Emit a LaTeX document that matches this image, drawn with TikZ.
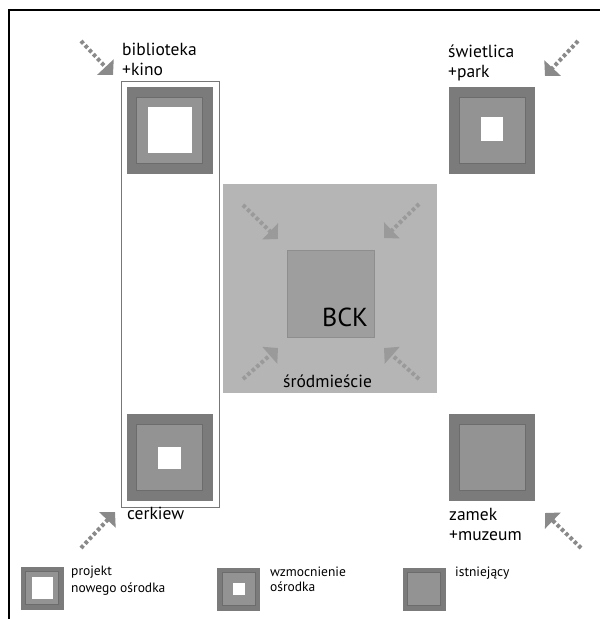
\documentclass[tikz,border=0pt]{standalone}
\usepackage{fontspec}
\setmainfont{PT Sans}
\usetikzlibrary{arrows.meta}
\definecolor{ringdark}{HTML}{7B7B7B}
\definecolor{ringmid}{HTML}{939393}
\definecolor{ringline}{HTML}{6C6C6C}
\definecolor{citybg}{HTML}{B5B5B5}
\definecolor{bckfill}{HTML}{9E9E9E}
\definecolor{bckline}{HTML}{8E8E8E}
\definecolor{arrowgray}{HTML}{8A8A8A}
\definecolor{arrowlight}{HTML}{9A9A9A}
\definecolor{colgray}{HTML}{777777}
\begin{document}
\begin{tikzpicture}[x=1pt,y=-1pt,
  outer/.style={fill=ringdark, draw=none, inner sep=0pt, minimum width=86pt, minimum height=87pt},
  middle/.style={fill=ringmid, draw=ringline, line width=1pt, inner sep=0pt, minimum width=66pt, minimum height=66pt},
  hole/.style={fill=white, draw=none, inner sep=0pt},
  louter/.style={fill=ringdark, draw=none, inner sep=0pt, minimum width=43pt, minimum height=43pt},
  lmiddle/.style={fill=ringmid, draw=ringline, line width=0.8pt, inner sep=0pt, minimum width=33pt, minimum height=33pt},
  lbl/.style={font=\fontsize{17.5}{20}\selectfont, anchor=base west, inner sep=0pt},
  leg/.style={font=\fontsize{13.5}{15}\selectfont, anchor=base west, inner sep=0pt},
  flow/.style={draw=arrowgray, line width=4pt, dash pattern=on 3.5pt off 2.5pt, -{Triangle[length=11pt,width=22pt]}},
  cflow/.style={flow, draw=arrowlight}
]
\useasboundingbox (0,0) rectangle (600,619);
\fill[white] (0,0) rectangle (600,619);
% frame
\draw[line width=2.5pt] (9,619) -- (9,10) -- (600,10);

% column around biblioteka and cerkiew
\node[draw=colgray, line width=0.8pt, inner sep=0pt, minimum width=98pt, minimum height=426pt] (col) at (170,294) {};

% centre
\node[fill=citybg, draw=none, inner sep=0pt, minimum width=214pt, minimum height=209pt] (city) at (330,288.5) {};
\node[fill=bckfill, draw=bckline, line width=0.8pt, inner sep=0pt, minimum width=87pt, minimum height=87pt] (bck) at (330.5,293.5) {};
\node[font=\fontsize{26}{30}\selectfont, anchor=base west, inner sep=0pt] (bcktxt) at (322,326) {BCK};
\node[font=\fontsize{17.5}{20}\selectfont, anchor=base west, inner sep=0pt] (srod) at (283,387) {śródmieście};

% biblioteka
\node[outer] (bibo) at (169.5,130) {};
\node[middle] (bibm) at (bibo.center) {};
\node[hole, minimum width=44pt, minimum height=46pt] (bibi) at (bibo.center) {};
% swietlica
\node[outer] (swo) at (492,130) {};
\node[middle] (swm) at (swo.center) {};
\node[hole, minimum width=22pt, minimum height=24pt] (swi) at (492,129) {};
% cerkiew
\node[outer] (ceo) at (169.5,457.5) {};
\node[middle] (cem) at (ceo.center) {};
\node[hole, minimum width=23pt, minimum height=22pt] (cei) at (169.5,458) {};
% zamek
\node[outer] (zao) at (492,457.5) {};
\node[middle] (zam) at (zao.center) {};

% labels
\node[lbl] (l1a) at (122,55) {biblioteka};
\node[lbl] (l1b) at (122,75) {+kino};
\node[lbl] (l2a) at (448,57) {świetlica};
\node[lbl] (l2b) at (448,77) {+park};
\node[lbl] (l3a) at (127,519) {cerkiew};
\node[lbl] (l4a) at (449,520) {zamek};
\node[lbl] (l4b) at (449,540) {+muzeum};

% outer arrows
\coordinate (a1s) at (81,41);  \coordinate (a1e) at (113,75);
\coordinate (a2s) at (578,41); \coordinate (a2e) at (545,76);
\coordinate (a3s) at (81,548); \coordinate (a3e) at (115,512);
\coordinate (a4s) at (581,548);\coordinate (a4e) at (545,513);
\draw[flow] (a1s) -- (a1e);
\draw[flow] (a2s) -- (a2e);
\draw[flow] (a3s) -- (a3e);
\draw[flow] (a4s) -- (a4e);

% centre arrows
\coordinate (c1s) at (243,205); \coordinate (c1e) at (278,239);
\coordinate (c2s) at (419,204); \coordinate (c2e) at (384,238);
\coordinate (c3s) at (243,379); \coordinate (c3e) at (278,348);
\coordinate (c4s) at (419,379); \coordinate (c4e) at (384,348);
\draw[cflow] (c1s) -- (c1e);
\draw[cflow] (c2s) -- (c2e);
\draw[cflow] (c3s) -- (c3e);
\draw[cflow] (c4s) -- (c4e);

% legend
\node[louter] (g1o) at (42,588) {};
\node[lmiddle] (g1m) at (g1o.center) {};
\node[hole, minimum width=21pt, minimum height=22pt] (g1i) at (g1o.center) {};
\node[leg] (g1a) at (71,575) {projekt};
\node[leg] (g1b) at (71,592) {nowego ośrodka};

\node[louter] (g2o) at (238.5,589) {};
\node[lmiddle] (g2m) at (g2o.center) {};
\node[hole, minimum width=12pt, minimum height=12pt] (g2i) at (g2o.center) {};
\node[leg] (g2a) at (270,576) {wzmocnienie};
\node[leg] (g2b) at (270,591) {ośrodka};

\node[louter] (g3o) at (424,589) {};
\node[lmiddle] (g3m) at (g3o.center) {};
\node[leg] (g3a) at (455,576) {istniejący};
\end{tikzpicture}
\end{document}
